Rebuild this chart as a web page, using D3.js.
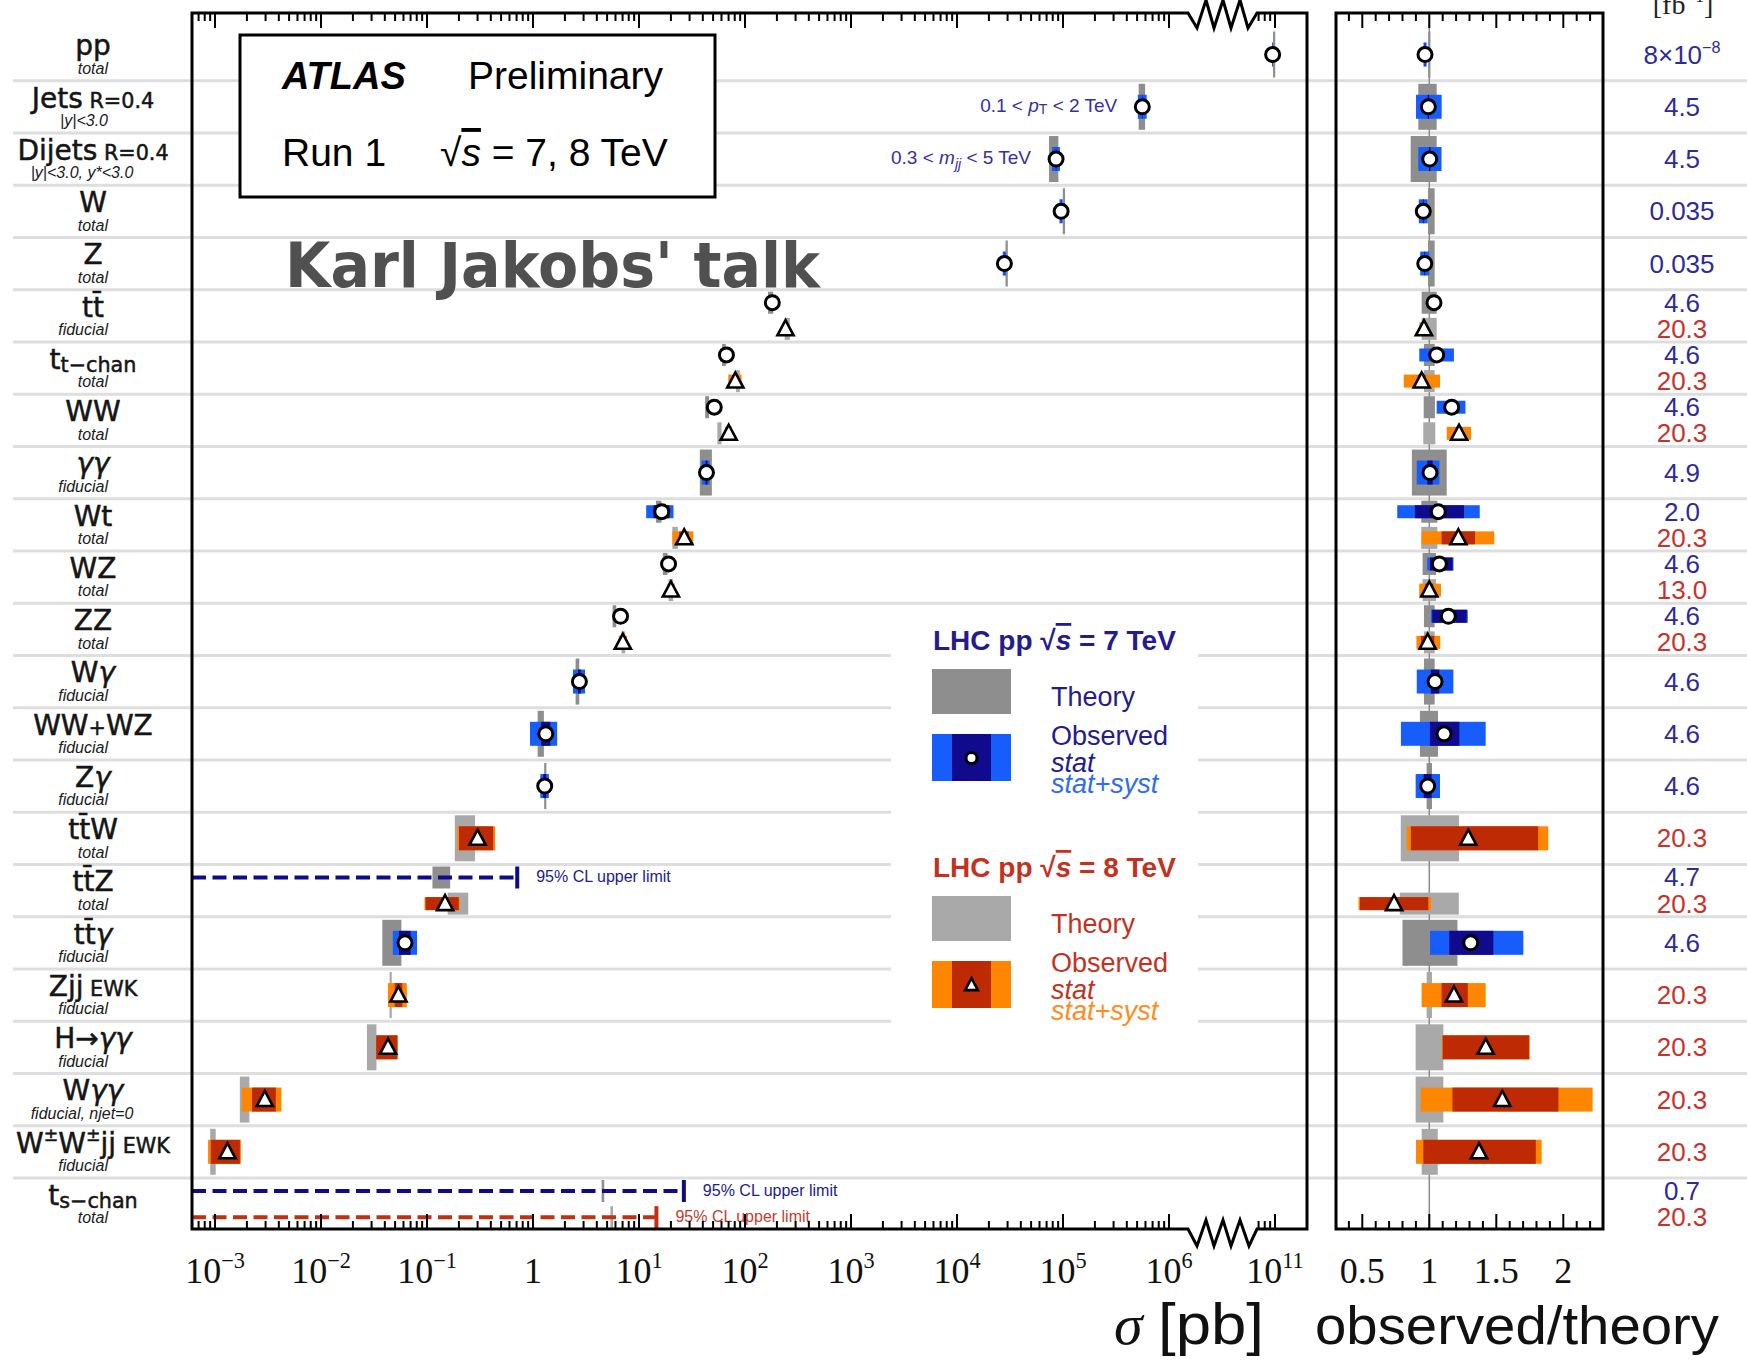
<!DOCTYPE html>
<html>
<head>
<meta charset="utf-8">
<script src="https://cdn.jsdelivr.net/npm/d3@7/dist/d3.min.js"></script>
<style>
  html, body { margin: 0; padding: 0; background: #fff; }
  svg { display: block; }
</style>
</head>
<body>
<svg id="chart" width="1747" height="1366"></svg>
<script>
// ---------------- process rows, top to bottom ----------------
const processes = ["pp","Jets","Dijets","W","Z","ttbar","t-chan","WW","gamgam","Wt","WZ","ZZ",
  "Wgam","WW+WZ","Zgam","ttW","ttZ","ttgam","ZjjEWK","Hgamgam","Wgamgam","WWjjEWK","s-chan"];

// row titles as [text, kind] parts (s = small, sub/sup = sub/superscript, g = italic)
const rowTitles = [
  [["pp"]],
  [["Jets"], [" R=0.4", "s"]],
  [["Dijets"], [" R=0.4", "s"]],
  [["W"]],
  [["Z"]],
  [["tt\u0304"]],
  [["t"], ["t\u2212chan", "sub"]],
  [["WW"]],
  [["\u03b3\u03b3", "g"]],
  [["Wt"]],
  [["WZ"]],
  [["ZZ"]],
  [["W"], ["\u03b3", "g"]],
  [["WW"], ["+", "s"], ["WZ"]],
  [["Z"], ["\u03b3", "g"]],
  [["tt\u0304W"]],
  [["tt\u0304Z"]],
  [["tt\u0304"], ["\u03b3", "g"]],
  [["Zjj"], [" EWK", "s"]],
  [["H\u2192"], ["\u03b3\u03b3", "g"]],
  [["W"], ["\u03b3\u03b3", "g"]],
  [["W"], ["\u00b1", "sup"], ["W"], ["\u00b1", "sup"], ["jj"], [" EWK", "s"]],
  [["t"], ["s\u2212chan", "sub"]]
];
const rowSubtitles = ["total","|y|<3.0","|y|<3.0, y*<3.0","total","total","fiducial","total","total",
  "fiducial","total","total","total","fiducial","fiducial","fiducial","total","total","fiducial",
  "fiducial","fiducial","fiducial, njet=0","fiducial","total"];

// ---------------- 7 TeV measurements ----------------
// cross section [pb], observed/theory, relative uncertainties [down, up]
const sigma7 = [9.5e10, 5.6e5, 8.6e4, 9.6e4, 2.8e4, 181, 66.8, 51.3, 43.3, 16.4, 19.0, 6.7,
  2.74, 1.32, 1.29, null, null, 0.062, null, null, null, null, null];
const ratio7 = [0.968, 0.993, 1.003, 0.955, 0.966, 1.035, 1.055, 1.167, 1.005, 1.067, 1.075, 1.142,
  1.043, 1.11, 0.988, null, null, 1.309, null, null, null, null, null];
const theoryErr7 = [[.003,.003],[.082,.055],[.139,.055],[.01,.04],[.01,.04],[.057,.055],[.04,.04],
  [.042,.042],[.13,.13],[.06,.06],[.05,.05],[.04,.04],[.04,.04],[.07,.065],[.02,.02],null,null,
  [.2,.21],null,null,null,null,null];
const statErr7 = [[.002,.002],[.005,.005],[.005,.005],[.003,.003],[.003,.003],[.01,.01],[.03,.03],
  [.03,.03],[.02,.02],[.163,.18],[.065,.092],[.105,.12],[.03,.03],[.095,.103],[.03,.03],null,null,
  [.122,.129],null,null,null,null,null];
const totalErr7 = [[.012,.012],[.093,.1],[.085,.088],[.035,.035],[.035,.035],[.02,.02],[.123,.122],
  [.096,.088],[.098,.07],[.287,.29],[.084,.098],[.113,.127],[.131,.131],[.29,.28],[.091,.093],null,null,
  [.232,.3],null,null,null,null,null];

// ---------------- 8 TeV measurements ----------------
const sigma8 = [null, null, null, null, null, 241, 81, 70.2, null, 26.7, 20.0, 7.04,
  null, null, null, 0.30, 0.148, null, 0.0538, 0.0429, 0.00295, 0.00131, null];
const ratio8 = [null, null, null, null, null, 0.96, 0.943, 1.222, null, 1.217, 1.0, 0.988,
  null, null, null, 1.291, 0.737, null, 1.184, 1.421, 1.545, 1.371, null];
const theoryErr8 = [null,null,null,null,null,[.057,.055],[.04,.04],[.045,.045],null,[.06,.06],
  [.05,.05],[.04,.04],null,null,null,[.213,.222],[.22,.22],null,[.02,.02],[.102,.105],[.102,.105],
  [.057,.063],null];
const statErr8 = [null,null,null,null,null,[.01,.01],[.03,.03],[.02,.02],null,[.103,.102],
  [.03,.03],[.05,.05],null,null,null,[.332,.404],[.345,.347],null,[.078,.087],[.226,.227],
  [.241,.271],[.303,.309],null];
const totalErr8 = [null,null,null,null,null,[.035,.035],[.142,.145],[.075,.073],null,[.225,.22],
  [.075,.087],[.085,.095],null,null,null,[.356,.462],[.36,.375],null,[.204,.2],[.23,.232],
  [.394,.436],[.343,.341],null];

// ---------------- 95% CL upper limits ----------------
const limitRows = [16, 22, 22];
const limitEnergy = [7, 7, 8];
const limitValue = [0.71, 26.5, 14.6];
const limitTheory = [0.139, 4.57, 5.53];
const limitTheoryErr = [0.19, 0.02, 0.02];

// ---------------- integrated luminosity [fb^-1] ----------------
const lumi7 = ["8\u00d710|\u22128","4.5","4.5","0.035","0.035","4.6","4.6","4.6","4.9","2.0","4.6","4.6",
  "4.6","4.6","4.6",null,"4.7","4.6",null,null,null,null,"0.7"];
const lumi8 = [null,null,null,null,null,"20.3","20.3","20.3",null,"20.3","13.0","20.3",
  null,null,null,"20.3","20.3",null,"20.3","20.3","20.3","20.3","20.3"];

// ---------------- axis ticks ----------------
const sigmaTicks = [1e-3, 1e-2, 1e-1, 1, 1e1, 1e2, 1e3, 1e4, 1e5, 1e6, 1e11];
const sigmaTickLabels = [["10","\u22123"],["10","\u22122"],["10","\u22121"],["1",null],["10","1"],
  ["10","2"],["10","3"],["10","4"],["10","5"],["10","6"],["10","11"]];
const ratioTicks = [0.5, 1, 1.5, 2];
const ratioTickLabels = ["0.5", "1", "1.5", "2"];

// ---------------- styling ----------------
const COL = {
  blue: "#165dfb", navy: "#100a8c", orange: "#ff8600", dred: "#bd2a03",
  th7: "#8e8e8e", th8: "#a9a9a9", txt7: "#231b8f", txt8: "#c3321f",
  lumi7: "#2d2a9d", lumi8: "#c9322b", sep: "#dedede", syst7: "#2f6bf4", syst8: "#ff8c1e"
};
const FONT = {
  sans: "'Liberation Sans', Arial, Helvetica, sans-serif",
  serif: "'Liberation Serif', 'Times New Roman', serif",
  label: "'DejaVu Sans', Verdana, sans-serif"
};

const svg = d3.select("#chart");
const main = { x0: 192, x1: 1307, y0: 13, y1: 1229 };
const rat = { x0: 1336, x1: 1603, y0: 13, y1: 1229 };

// log axis with a break: values above 1e8 pb are drawn four decades lower
const xLog = d3.scaleLog().domain([1e-3, 1e6]).range([215, 1169]);
const breakAt = 1e8, gapFactor = 1e4;
const xMain = v => xLog(v > breakAt ? v / gapFactor : v);
const xRatio = d3.scaleLinear().domain([1, 2]).range([1429.3, 1563.3]);
const yRow = d3.scaleBand().domain(d3.range(processes.length)).range([28.4, 1230.2]);
const bw = yRow.bandwidth();

const has7 = i => sigma7[i] != null || limitRows.some((r, k) => r === i && limitEnergy[k] === 7);
const has8 = i => sigma8[i] != null || limitRows.some((r, k) => r === i && limitEnergy[k] === 8);
const dualRow = i => has7(i) && has8(i);
const yOf = (i, e) => dualRow(i) ? yRow(i) + bw * (e === 7 ? 0.25 : 0.75) : yRow(i) + bw / 2;

// rich text helper
function rich(sel, parts, size) {
  let cur = 0;
  parts.forEach(([t, kind]) => {
    let fs = size, off = 0, italic = false;
    if (kind === "s") fs = size * 0.74;
    else if (kind === "sub") { fs = size * 0.74; off = size * 0.12; }
    else if (kind === "isub") { fs = size * 0.74; off = size * 0.24; italic = true; }
    else if (kind === "sup") { fs = size * 0.62; off = -size * 0.42; }
    else if (kind === "g" || kind === "i") italic = true;
    const ts = sel.append("tspan").attr("font-size", fs).attr("dy", off - cur).text(t);
    if (italic) ts.attr("font-style", "italic");
    if (kind === "ov") ts.attr("font-style", "italic").style("text-decoration", "overline");
    cur = off;
  });
  return sel;
}

function band(g, xa, xb, yc, h, fill, minW) {
  let a = Math.min(xa, xb), b = Math.max(xa, xb);
  if (minW && b - a < minW) { const m = (a + b) / 2; a = m - minW / 2; b = m + minW / 2; }
  g.append("rect").attr("x", a).attr("y", yc - h / 2).attr("width", b - a).attr("height", h).attr("fill", fill);
}
function marker(g, x, y, e, r) {
  if (e === 7) {
    g.append("circle").attr("cx", x).attr("cy", y).attr("r", r || 7)
      .attr("fill", "#fff").attr("stroke", "#000").attr("stroke-width", 3);
  } else {
    const s = (r || 7) / 6.5;
    g.append("path").attr("d", `M${x},${y - 8 * s}L${x + 7.5 * s},${y + 6 * s}L${x - 7.5 * s},${y + 6 * s}Z`)
      .attr("fill", "#fff").attr("stroke", "#000").attr("stroke-width", 2.6).attr("stroke-linejoin", "miter");
  }
}

// ---------------- row separators ----------------
const gSep = svg.append("g");
d3.range(1, processes.length).forEach(i => {
  gSep.append("line").attr("x1", 13).attr("x2", 1747).attr("y1", yRow(i)).attr("y2", yRow(i))
    .attr("stroke", COL.sep).attr("stroke-width", 3);
});

// clip paths
const defs = svg.append("defs");
defs.append("clipPath").attr("id", "clipMain").append("rect")
  .attr("x", main.x0).attr("y", main.y0).attr("width", main.x1 - main.x0).attr("height", main.y1 - main.y0);
defs.append("clipPath").attr("id", "clipRat").append("rect")
  .attr("x", rat.x0).attr("y", rat.y0).attr("width", rat.x1 - rat.x0).attr("height", rat.y1 - rat.y0);

const gMain = svg.append("g").attr("clip-path", "url(#clipMain)");
const gRat = svg.append("g").attr("clip-path", "url(#clipRat)");

// reference line at observed/theory = 1
gRat.append("line").attr("x1", xRatio(1)).attr("x2", xRatio(1)).attr("y1", rat.y0).attr("y2", rat.y1)
  .attr("stroke", "#8a8a8a").attr("stroke-width", 1.5);

// ---------------- measurements ----------------
const sets = [
  { e: 7, S: sigma7, R: ratio7, T: theoryErr7, St: statErr7, To: totalErr7, th: COL.th7, lo: COL.blue, hi: COL.navy },
  { e: 8, S: sigma8, R: ratio8, T: theoryErr8, St: statErr8, To: totalErr8, th: COL.th8, lo: COL.orange, hi: COL.dred }
];
const layers = { th: [gMain.append("g"), gRat.append("g")], obs: [gMain.append("g"), gRat.append("g")], mk: [gMain.append("g"), gRat.append("g")] };

sets.forEach(d => {
  d.S.forEach((s, i) => {
    if (s == null) return;
    const yc = yOf(i, d.e), dual = dualRow(i);
    const hT = dual ? 22 : 46, hO = dual ? 13 : 24;
    const r = d.R[i], theory = s / r, T = d.T[i], St = d.St[i], To = d.To[i];
    // cross-section panel
    band(layers.th[0], xMain(theory * (1 - T[0])), xMain(theory * (1 + T[1])), yc, hT, d.th, 2.2);
    band(layers.obs[0], xMain(s * (1 - To[0])), xMain(s * (1 + To[1])), yc, hO, d.lo);
    band(layers.obs[0], xMain(s * (1 - St[0])), xMain(s * (1 + St[1])), yc, hO, d.hi);
    marker(layers.mk[0], xMain(s), yc, d.e);
    // ratio panel
    band(layers.th[1], xRatio(1 - T[0]), xRatio(1 + T[1]), yc, hT, d.th, 2.2);
    band(layers.obs[1], xRatio(r * (1 - To[0])), xRatio(r * (1 + To[1])), yc, hO, d.lo);
    band(layers.obs[1], xRatio(r * (1 - St[0])), xRatio(r * (1 + St[1])), yc, hO, d.hi);
    marker(layers.mk[1], xRatio(r), yc, d.e);
  });
});

// upper limits
limitRows.forEach((row, k) => {
  const e = limitEnergy[k], yc = yOf(row, e);
  const col = e === 7 ? COL.navy : "#c23012";
  const th = limitTheory[k], te = limitTheoryErr[k];
  band(layers.th[0], xMain(th * (1 - te)), xMain(th * (1 + te)), yc, 22, e === 7 ? COL.th7 : COL.th8, 2.6);
  const xl = xMain(limitValue[k]);
  layers.mk[0].append("line").attr("x1", main.x0).attr("x2", xl).attr("y1", yc).attr("y2", yc)
    .attr("stroke", col).attr("stroke-width", 4).attr("stroke-dasharray", "14,6.5");
  layers.mk[0].append("line").attr("x1", xl).attr("x2", xl).attr("y1", yc - 11).attr("y2", yc + 11)
    .attr("stroke", col).attr("stroke-width", 4);
  svg.append("text").attr("x", xl + 19).attr("y", yc + 5)
    .attr("font-family", FONT.sans).attr("font-size", 16)
    .attr("fill", e === 7 ? COL.txt7 : "#c63a2c").text("95% CL upper limit");
});

// kinematic range notes next to the jet measurements
const rangeNoteRows = [1, 2];
const rangeNotes = [
  [["0.1 < "], ["p", "i"], ["T", "sub"], [" < 2 TeV"]],
  [["0.3 < "], ["m", "i"], ["jj", "isub"], [" < 5 TeV"]]
];
rangeNoteRows.forEach((row, k) => {
  const t = svg.append("text").attr("x", xMain(sigma7[row]) - 25).attr("y", yOf(row, 7) + 5)
    .attr("text-anchor", "end").attr("font-family", FONT.sans).attr("fill", "#3330a0");
  rich(t, rangeNotes[k], 19);
});

// ---------------- frames and ticks ----------------
const gAx = svg.append("g").attr("fill", "none").attr("stroke", "#000");
// cross-section frame, with zigzag marks at the axis break
gAx.append("path").attr("stroke-width", 3).attr("stroke-linejoin", "miter").attr("d",
  `M${main.x0},${main.y0}H1188L1197,28L1206,0L1214,28L1223,0L1231,28L1240,0L1248,28L1257,${main.y0}H${main.x1}` +
  `V${main.y1}H1257L1249,1246L1240,1220L1231,1246L1223,1220L1214,1246L1206,1220L1197,1246L1188,${main.y1}H${main.x0}Z`);
gAx.append("rect").attr("x", rat.x0).attr("y", rat.y0).attr("width", rat.x1 - rat.x0)
  .attr("height", rat.y1 - rat.y0).attr("stroke-width", 3);

const minorSigma = [];
d3.range(-4, 7).forEach(d => d3.range(2, 10).forEach(k => {
  const v = k * Math.pow(10, d), x = xMain(v);
  if (x > main.x0 + 1 && x < 1186) minorSigma.push(v);
}));
d3.range(10, 12).forEach(d => d3.range(2, 10).forEach(k => {
  const v = k * Math.pow(10, d), x = xMain(v);
  if (x > 1258 && x < main.x1 - 2) minorSigma.push(v);
}));
function ticks(xs, xf, len) {
  xs.forEach(v => {
    const x = xf(v);
    gAx.append("line").attr("x1", x).attr("x2", x).attr("y1", main.y0).attr("y2", main.y0 + len).attr("stroke-width", 2);
    gAx.append("line").attr("x1", x).attr("x2", x).attr("y1", main.y1).attr("y2", main.y1 - len).attr("stroke-width", 2);
  });
}
ticks(sigmaTicks, xMain, 15);
ticks(minorSigma, xMain, 8);
const ratioMinor = d3.range(4, 23).map(v => v / 10).filter(v => Math.abs(v * 2 - Math.round(v * 2)) > 1e-6);
ticks(ratioTicks, xRatio, 15);
ticks(ratioMinor, xRatio, 8);

// tick labels
sigmaTicks.forEach((v, k) => {
  const [base, exp] = sigmaTickLabels[k];
  const t = svg.append("text").attr("x", xMain(v)).attr("y", 1283).attr("text-anchor", "middle")
    .attr("font-family", FONT.serif).attr("fill", "#111");
  const parts = exp ? [[base], [exp, "sup"]] : [[base]];
  rich(t, parts, 36);
});
ratioTicks.forEach((v, k) => {
  svg.append("text").attr("x", xRatio(v)).attr("y", 1283).attr("text-anchor", "middle")
    .attr("font-family", FONT.serif).attr("font-size", 36).attr("fill", "#111").text(ratioTickLabels[k]);
});

// axis titles
const tSig = svg.append("text").attr("x", 1114).attr("y", 1344).attr("fill", "#111");
tSig.append("tspan").attr("font-family", FONT.serif).attr("font-style", "italic").attr("font-size", 58).text("\u03c3");
tSig.append("tspan").attr("font-family", FONT.sans).attr("font-size", 58).attr("x", 1158)
  .attr("textLength", 106).attr("lengthAdjust", "spacingAndGlyphs").text("[pb]");
svg.append("text").attr("x", 1315).attr("y", 1344).attr("font-family", FONT.sans).attr("font-size", 54)
  .attr("fill", "#111").attr("textLength", 404).attr("lengthAdjust", "spacingAndGlyphs").text("observed/theory");

// ---------------- row labels ----------------
processes.forEach((p, i) => {
  const t = svg.append("text").attr("x", 93).attr("y", yRow(i) + 27).attr("text-anchor", "middle")
    .attr("font-family", FONT.label).attr("fill", "#151515")
    .attr("stroke", "#151515").attr("stroke-width", 0.5);
  rich(t, rowTitles[i], 28);
  const s = svg.append("text").attr("x", 108).attr("y", yRow(i) + 45.5).attr("text-anchor", "end")
    .attr("font-family", FONT.sans).attr("font-style", "italic").attr("font-size", 16).attr("fill", "#1a1a1a")
    .text(rowSubtitles[i]);
  if (s.node().getComputedTextLength() > 62) s.attr("x", 82).attr("text-anchor", "middle");
});

// luminosity column
svg.append("text").attr("x", 1683).attr("y", 14).attr("text-anchor", "middle").attr("font-family", FONT.serif)
  .attr("fill", "#222").call(t => rich(t, [["[fb"], ["\u22121", "sup"], ["]"]], 28));
[[lumi7, 7, COL.lumi7], [lumi8, 8, COL.lumi8]].forEach(([arr, e, col]) => {
  arr.forEach((l, i) => {
    if (l == null) return;
    const t = svg.append("text").attr("x", 1682).attr("y", yOf(i, e) + 9).attr("text-anchor", "middle")
      .attr("font-family", FONT.sans).attr("fill", col);
    const [b, ex] = l.split("|");
    rich(t, ex ? [[b], [ex, "sup"]] : [[b]], 26);
  });
});

// ---------------- ATLAS label box ----------------
svg.append("rect").attr("x", 240).attr("y", 35).attr("width", 475).attr("height", 162)
  .attr("fill", "#fff").attr("stroke", "#000").attr("stroke-width", 3);
svg.append("text").attr("x", 282).attr("y", 89).attr("font-family", FONT.sans).attr("font-size", 38)
  .attr("font-weight", "bold").attr("font-style", "italic").attr("fill", "#000").text("ATLAS");
svg.append("text").attr("x", 468).attr("y", 89).attr("font-family", FONT.sans).attr("font-size", 39)
  .attr("fill", "#000").text("Preliminary");
svg.append("text").attr("x", 282).attr("y", 166).attr("font-family", FONT.sans).attr("font-size", 39)
  .attr("fill", "#000").text("Run 1");
svg.append("text").attr("x", 440).attr("y", 166).attr("font-family", FONT.sans).attr("fill", "#000")
  .call(t => rich(t, [["\u221a"], ["s", "ov"], [" = 7, 8 TeV"]], 39));

svg.append("text").attr("x", 285).attr("y", 287).attr("font-family", FONT.label).attr("font-weight", "bold")
  .attr("font-size", 62).attr("fill", "#505050").attr("textLength", 535).attr("lengthAdjust", "spacingAndGlyphs")
  .text("Karl Jakobs' talk");

// ---------------- legend ----------------
const gLeg = svg.append("g");
gLeg.append("rect").attr("x", 891).attr("y", 613).attr("width", 307).attr("height", 432).attr("fill", "#fff");
const legendBlocks = [
  { y: 650, title: " = 7 TeV", col: COL.txt7, th: COL.th7, lo: COL.blue, hi: COL.navy, syst: COL.syst7, e: 7 },
  { y: 877, title: " = 8 TeV", col: COL.txt8, th: COL.th8, lo: COL.orange, hi: COL.dred, syst: COL.syst8, e: 8 }
];
legendBlocks.forEach(b => {
  gLeg.append("text").attr("x", 933).attr("y", b.y).attr("font-family", FONT.sans).attr("font-weight", "bold")
    .attr("fill", b.col).call(t => rich(t, [["LHC pp  \u221a"], ["s", "ov"], [b.title]], 28));
  gLeg.append("rect").attr("x", 932).attr("y", b.y + 19).attr("width", 79).attr("height", 45).attr("fill", b.th);
  gLeg.append("text").attr("x", 1051).attr("y", b.y + 56).attr("font-family", FONT.sans).attr("font-size", 27)
    .attr("fill", b.col).text("Theory");
  gLeg.append("rect").attr("x", 932).attr("y", b.y + 84).attr("width", 79).attr("height", 47).attr("fill", b.lo);
  gLeg.append("rect").attr("x", 952).attr("y", b.y + 84).attr("width", 39).attr("height", 47).attr("fill", b.hi);
  marker(gLeg, 971.5, b.y + 108, b.e, 5.5);
  gLeg.append("text").attr("x", 1051).attr("y", b.y + 95).attr("font-family", FONT.sans).attr("font-size", 27)
    .attr("fill", b.col).text("Observed");
  gLeg.append("text").attr("x", 1051).attr("y", b.y + 122).attr("font-family", FONT.sans).attr("font-size", 27)
    .attr("font-style", "italic").attr("fill", b.col).text("stat");
  gLeg.append("text").attr("x", 1051).attr("y", b.y + 143).attr("font-family", FONT.sans).attr("font-size", 27)
    .attr("font-style", "italic").attr("fill", b.syst).text("stat+syst");
});
</script>
</body>
</html>
